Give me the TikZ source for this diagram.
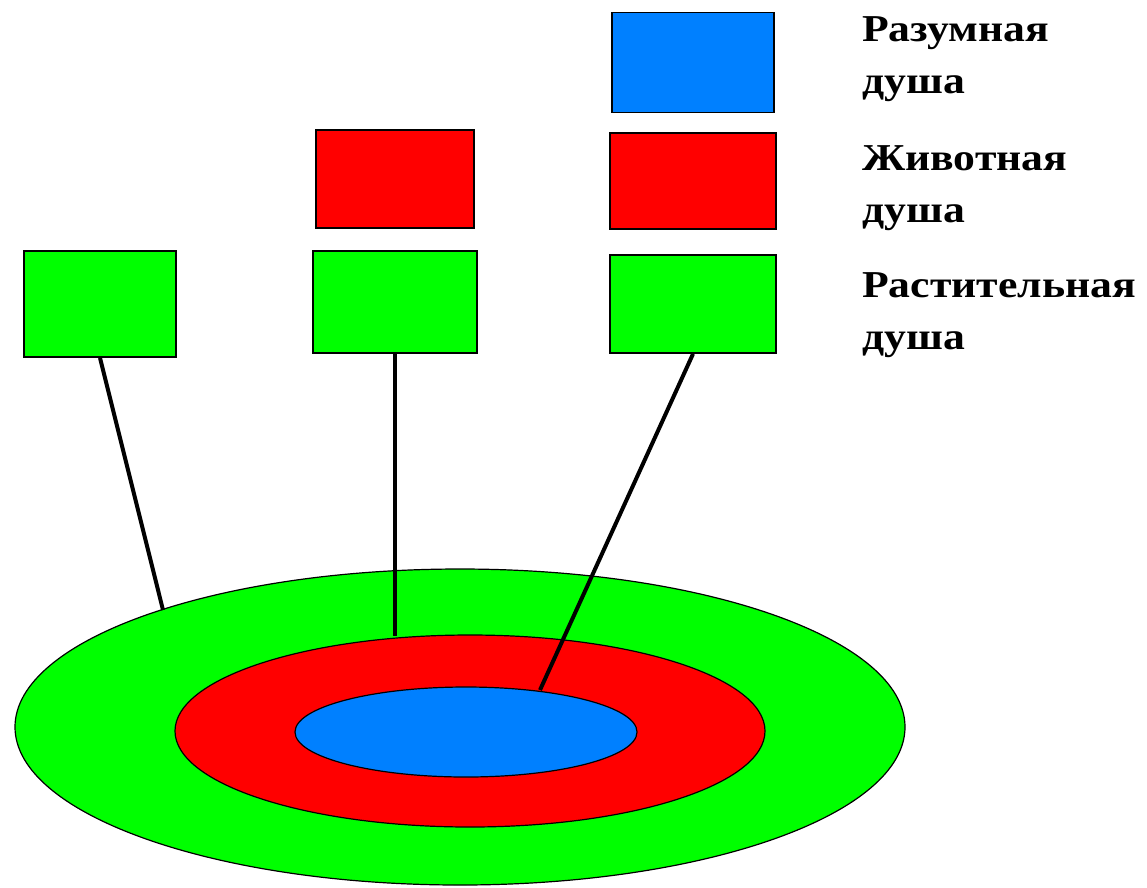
\documentclass[tikz,border=0pt]{standalone}
\usepackage{fontspec}
\setmainfont{Liberation Serif}[FakeStretch=1.15]
\usetikzlibrary{positioning, shapes.geometric}

\definecolor{plantgreen}{RGB}{0,255,0}
\definecolor{animalred}{RGB}{255,0,0}
\definecolor{mindblue}{RGB}{0,128,255}

\begin{document}
\begin{tikzpicture}[x=1pt, y=-1pt, node distance=20pt]

\tikzset{
  soul/.style={rectangle, draw, line width=1.8pt, minimum width=162pt, minimum height=100pt, inner sep=0pt},
  ring/.style={ellipse, draw, line width=1.2pt, inner sep=0pt},
  stem/.style={line width=4pt},
  caption/.style={anchor=north west, align=left, inner sep=0pt, font=\bfseries\fontsize{38}{52}\selectfont}
}

\useasboundingbox (0,0) rectangle (1147,887);

% --- Ringe ---
\node[ring, fill=plantgreen, minimum width=890pt, minimum height=316pt] (outer) at (460,727) {};
\node[ring, fill=animalred, minimum width=590pt, minimum height=192pt] (middle) at (470,731) {};
\node[ring, fill=mindblue, minimum width=342pt, minimum height=90pt] (inner) at (466,732) {};

% --- Seelen-Kaesten ---
\node[soul, fill=plantgreen, minimum width=152pt, minimum height=106pt] (g1) at (100,304) {};

\node[soul, fill=plantgreen, minimum width=164pt, minimum height=102pt] (g2) at (395,302) {};
\node[soul, fill=animalred, minimum width=158pt, minimum height=98pt, above=21pt of g2] (r2) {};

\node[soul, fill=plantgreen, minimum width=166pt, minimum height=98pt] (g3) at (693,304) {};
\node[soul, fill=animalred, minimum width=166pt, minimum height=96pt, above=24pt of g3] (r3) {};
\node[soul, fill=mindblue, above=19pt of r3] (b3) {};

% --- Endpunkte ---
\coordinate (e1) at (163,610);
\coordinate (e2) at (395,636);
\coordinate (e3) at (540,690);

% --- Verbindungen ---
\draw[stem] (g1.south) -- (e1);
\draw[stem] (g2.south) -- (e2);
\draw[stem] (g3.south) -- (e3);

% --- Beschriftungen ---
\node[caption] (lb) at (862,16) {Разумная\\душа};
\node[caption] (lr) at (862,145) {Животная\\душа};
\node[caption] (lg) at (862,272) {Растительная\\душа};

\end{tikzpicture}
\end{document}
